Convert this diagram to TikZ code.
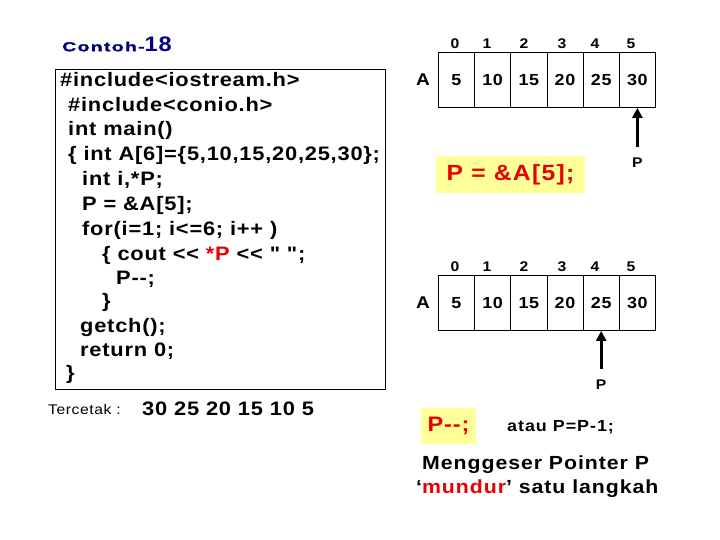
\documentclass[tikz,border=0pt]{standalone}
\usepackage{fontspec}
\setmainfont{Liberation Sans}[Ligatures=TeXOff, FakeStretch=1.12, LetterSpace=4]
\usetikzlibrary{arrows.meta,positioning}
\definecolor{navy}{RGB}{0,0,128}
\definecolor{codered}{RGB}{230,0,0}
\definecolor{noteyellow}{RGB}{255,255,153}
\newcommand{\fsz}[1]{\fontsize{#1}{#1}\selectfont}

\begin{document}
\begin{tikzpicture}[x=1pt, y=-1pt,
    code/.style={anchor=west, inner sep=0pt, font=\fsz{19.5}\bfseries},
    cell/.style={draw, line width=0.8pt, minimum width=36.2pt, minimum height=55pt, inner sep=0pt, font=\fsz{16}\bfseries},
    idx/.style={inner sep=0pt, font=\fsz{14}\bfseries},
    ptr/.style={-{Triangle[length=10pt,width=10pt]}, line width=2.6pt},
    note/.style={fill=noteyellow, inner sep=0pt, text=codered, font=\fsz{21}\bfseries}]
	\useasboundingbox (0,0) rectangle (720,540);
	% title and program
	\node[anchor=west, inner sep=0pt, text=navy] (title) at (62,44) {{\fsz{13}\bfseries\addfontfeature{FakeStretch=1.5, LetterSpace=10, FakeBold=1.5}Contoh-}{\fsz{21}\bfseries 18}};
	\draw[line width=0.8pt] (55,69) rectangle (385,389);
	\node[code] (l1) at (60,80) {\#include<iostream.h>};
	\node[code] (l2) at (68,105) {\#include<conio.h>};
	\node[code] (l3) at (68,130) {int main()};
	\node[code] (l4) at (68,155) {\{ int A[6]=\{5,10,15,20,25,30\};};
	\node[code] (l5) at (82,180) {int i,*P;};
	\node[code] (l6) at (82,205) {P = \&A[5];};
	\node[code] (l7) at (82,230) {for(i=1; i<=6; i++ )};
	\node[code] (l8) at (102,255) {\{ cout << \textcolor{codered}{*P} << " ";};
	\node[code] (l9) at (116,279) {P--;};
	\node[code] (l10) at (102,302) {\}};
	\node[code] (l11) at (80,327) {getch();};
	\node[code] (l12) at (80,351) {return 0;};
	\node[code] (l13) at (66,374) {\}};
	\node[anchor=west, inner sep=0pt, font=\fsz{14}] (tercetak) at (48,409) {Tercetak :};
	\node[anchor=west, inner sep=0pt, font=\fsz{19.5}\bfseries] (hasil) at (142,409) {30 25 20 15 10 5};
	% array before
	\node[inner sep=0pt, font=\fsz{17}\bfseries] (nameA) at (423,80) {A};
	\foreach \v [count=\i from 0] in {5,10,15,20,25,30}
		\node[cell] (a\i) at (456.4+36.2*\i,80) {\v};
	\foreach \x [count=\i from 0] in {455,487,524,562,595,631}
		\node[idx] (ia\i) at (\x,44) {\i};
	\node[idx, below=50pt of a5] (pa) {P};
	\draw[ptr] ([yshift=11pt]pa.north) -- (a5.south);
	\node[note, minimum width=149pt, minimum height=37pt, font=\fsz{22}\bfseries\addfontfeature{LetterSpace=6}] (assign) at (510.5,174.5) {P = \&A[5];};
	% array after
	\node[inner sep=0pt, font=\fsz{17}\bfseries] (nameB) at (423,303) {A};
	\foreach \v [count=\i from 0] in {5,10,15,20,25,30}
		\node[cell] (b\i) at (456.4+36.2*\i,303) {\v};
	\foreach \x [count=\i from 0] in {455,487,524,562,595,631}
		\node[idx] (ib\i) at (\x,267) {\i};
	\node[idx, below=49pt of b4] (pb) {P};
	\draw[ptr] ([yshift=11pt]pb.north) -- (b4.south);
	\node[note, minimum width=55pt, minimum height=36pt] (decr) at (448.5,426) {P--;};
	\node[anchor=west, inner sep=0pt, font=\fsz{16}\bfseries\addfontfeature{LetterSpace=6}] (atau) at (507,427) {atau P=P-1;};
	\node[anchor=west, inner sep=0pt, font=\fsz{19}\bfseries\addfontfeature{LetterSpace=5}] (geser1) at (422,465) {Menggeser Pointer P};
	\node[anchor=west, inner sep=0pt, font=\fsz{19}\bfseries\addfontfeature{LetterSpace=5}] (geser2) at (416,489) {‘\textcolor{codered}{mundur}’ satu langkah};
\end{tikzpicture}
\end{document}
